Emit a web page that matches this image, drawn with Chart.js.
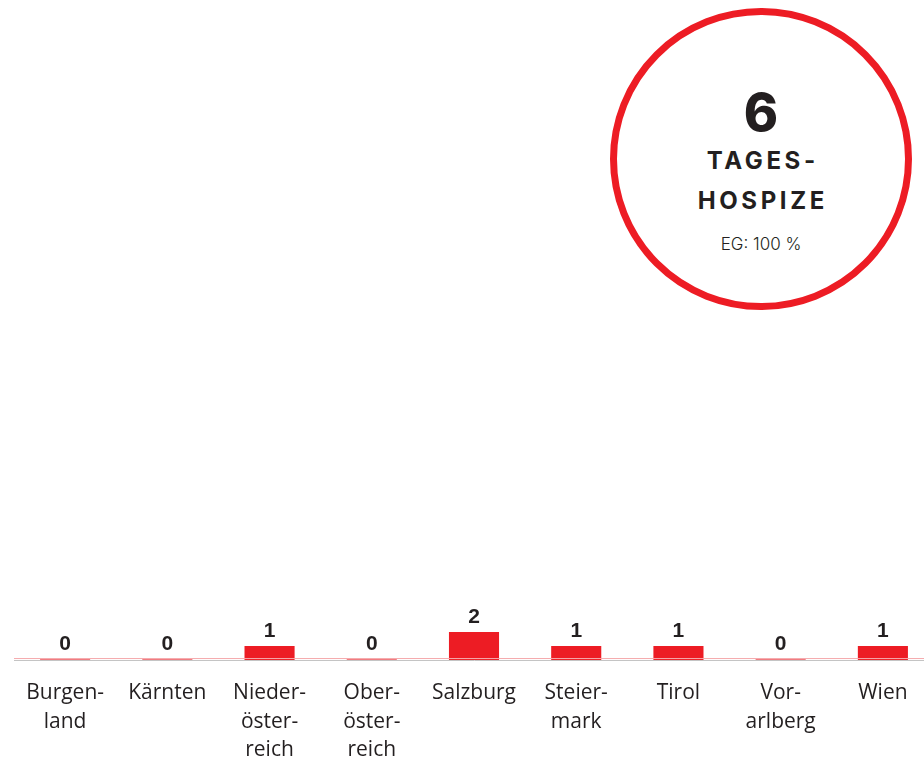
<!DOCTYPE html>
<html>
<head>
<meta charset="utf-8">
<script src="https://cdn.jsdelivr.net/npm/chart.js@4/dist/chart.umd.min.js"></script>
<style>
  html, body { margin: 0; padding: 0; background: #fff; overflow: hidden; width: 924px; height: 763px; }
  #badge {
    position: absolute; left: 610px; top: 8px; width: 302px; height: 302px;
    border: 7px solid #ed1c24; border-radius: 50%; box-sizing: border-box;
  }
  .badge-line { position: absolute; left: 610px; width: 302px; text-align: center; color: #231f20; line-height: 1; }
  #big { top: 81px; font: 800 52px Inter, sans-serif; }
  .title { font: 700 24px Inter, sans-serif; letter-spacing: 3.6px; text-indent: 3.6px; }
  #t1 { top: 146px; }
  #t2 { top: 186px; }
  #sub { top: 234px; font: 300 17px Inter, sans-serif; }
  #wrap { position: absolute; left: 0; top: 400px; width: 940px; height: 382px; }
</style>
</head>
<body>
<div id="badge"></div>
<div class="badge-line" id="big">6</div>
<div class="badge-line title" id="t1">TAGES-</div>
<div class="badge-line title" id="t2">HOSPIZE</div>
<div class="badge-line" id="sub">EG: 100 %</div>
<div id="wrap"><canvas id="chart"></canvas></div>
<script>
// Bundesländer and number of Tageshospize
const regions = [
    ['Burgen-', 'land'],
    'Kärnten',
    ['Nieder-', 'öster-', 'reich'],
    ['Ober-', 'öster-', 'reich'],
    'Salzburg',
    ['Steier-', 'mark'],
    'Tirol',
    ['Vor-', 'arlberg'],
    'Wien'
];
const counts = [0, 0, 1, 0, 2, 1, 1, 0, 1];

const red = '#ed1c24';
const zeroRed = '#f07b80';

// draws the value above each bar + pink baseline
const valueLabels = {
    id: 'valueLabels',
    afterDatasetsDraw(chart) {
        const ctx = chart.ctx;
        const area = chart.chartArea;
        const y0 = chart.scales.y.getPixelForValue(0);
        ctx.save();
        ctx.strokeStyle = '#f5a9ac';
        ctx.lineWidth = 1;
        ctx.beginPath();
        ctx.moveTo(area.left, y0 - 1.5);
        ctx.lineTo(area.right, y0 - 1.5);
        ctx.stroke();

        ctx.font = 'bold 21px "Liberation Sans", Arial, sans-serif';
        ctx.fillStyle = '#231f20';
        ctx.textAlign = 'center';
        ctx.textBaseline = 'alphabetic';
        chart.getDatasetMeta(0).data.forEach((bar, i) => {
            ctx.fillText(counts[i], bar.x, bar.y - 9);
        });
        ctx.restore();
    }
};

new Chart(document.getElementById('chart'), {
    type: 'bar',
    data: {
        labels: regions,
        datasets: [{
            data: counts,
            backgroundColor: counts.map(v => v === 0 ? zeroRed : red),
            minBarLength: 1,
            categoryPercentage: 1,
            barPercentage: 0.49,
            borderWidth: 0
        }]
    },
    options: {
        responsive: true,
        maintainAspectRatio: false,
        animation: false,
        layout: { padding: { left: 14, right: 6, top: 7, bottom: 7 } },
        plugins: {
            legend: { display: false },
            tooltip: { enabled: false }
        },
        scales: {
            x: {
                grid: { display: false },
                border: { color: '#c4c4c4', width: 1 },
                ticks: {
                    color: '#231f20',
                    padding: 10,
                    maxRotation: 0,
                    autoSkip: false,
                    font: { family: '"Open Sans", sans-serif', size: 21, lineHeight: 1.38 }
                }
            },
            y: {
                display: false,
                min: 0,
                max: 18
            }
        }
    },
    plugins: [valueLabels]
});
</script>
</body>
</html>
